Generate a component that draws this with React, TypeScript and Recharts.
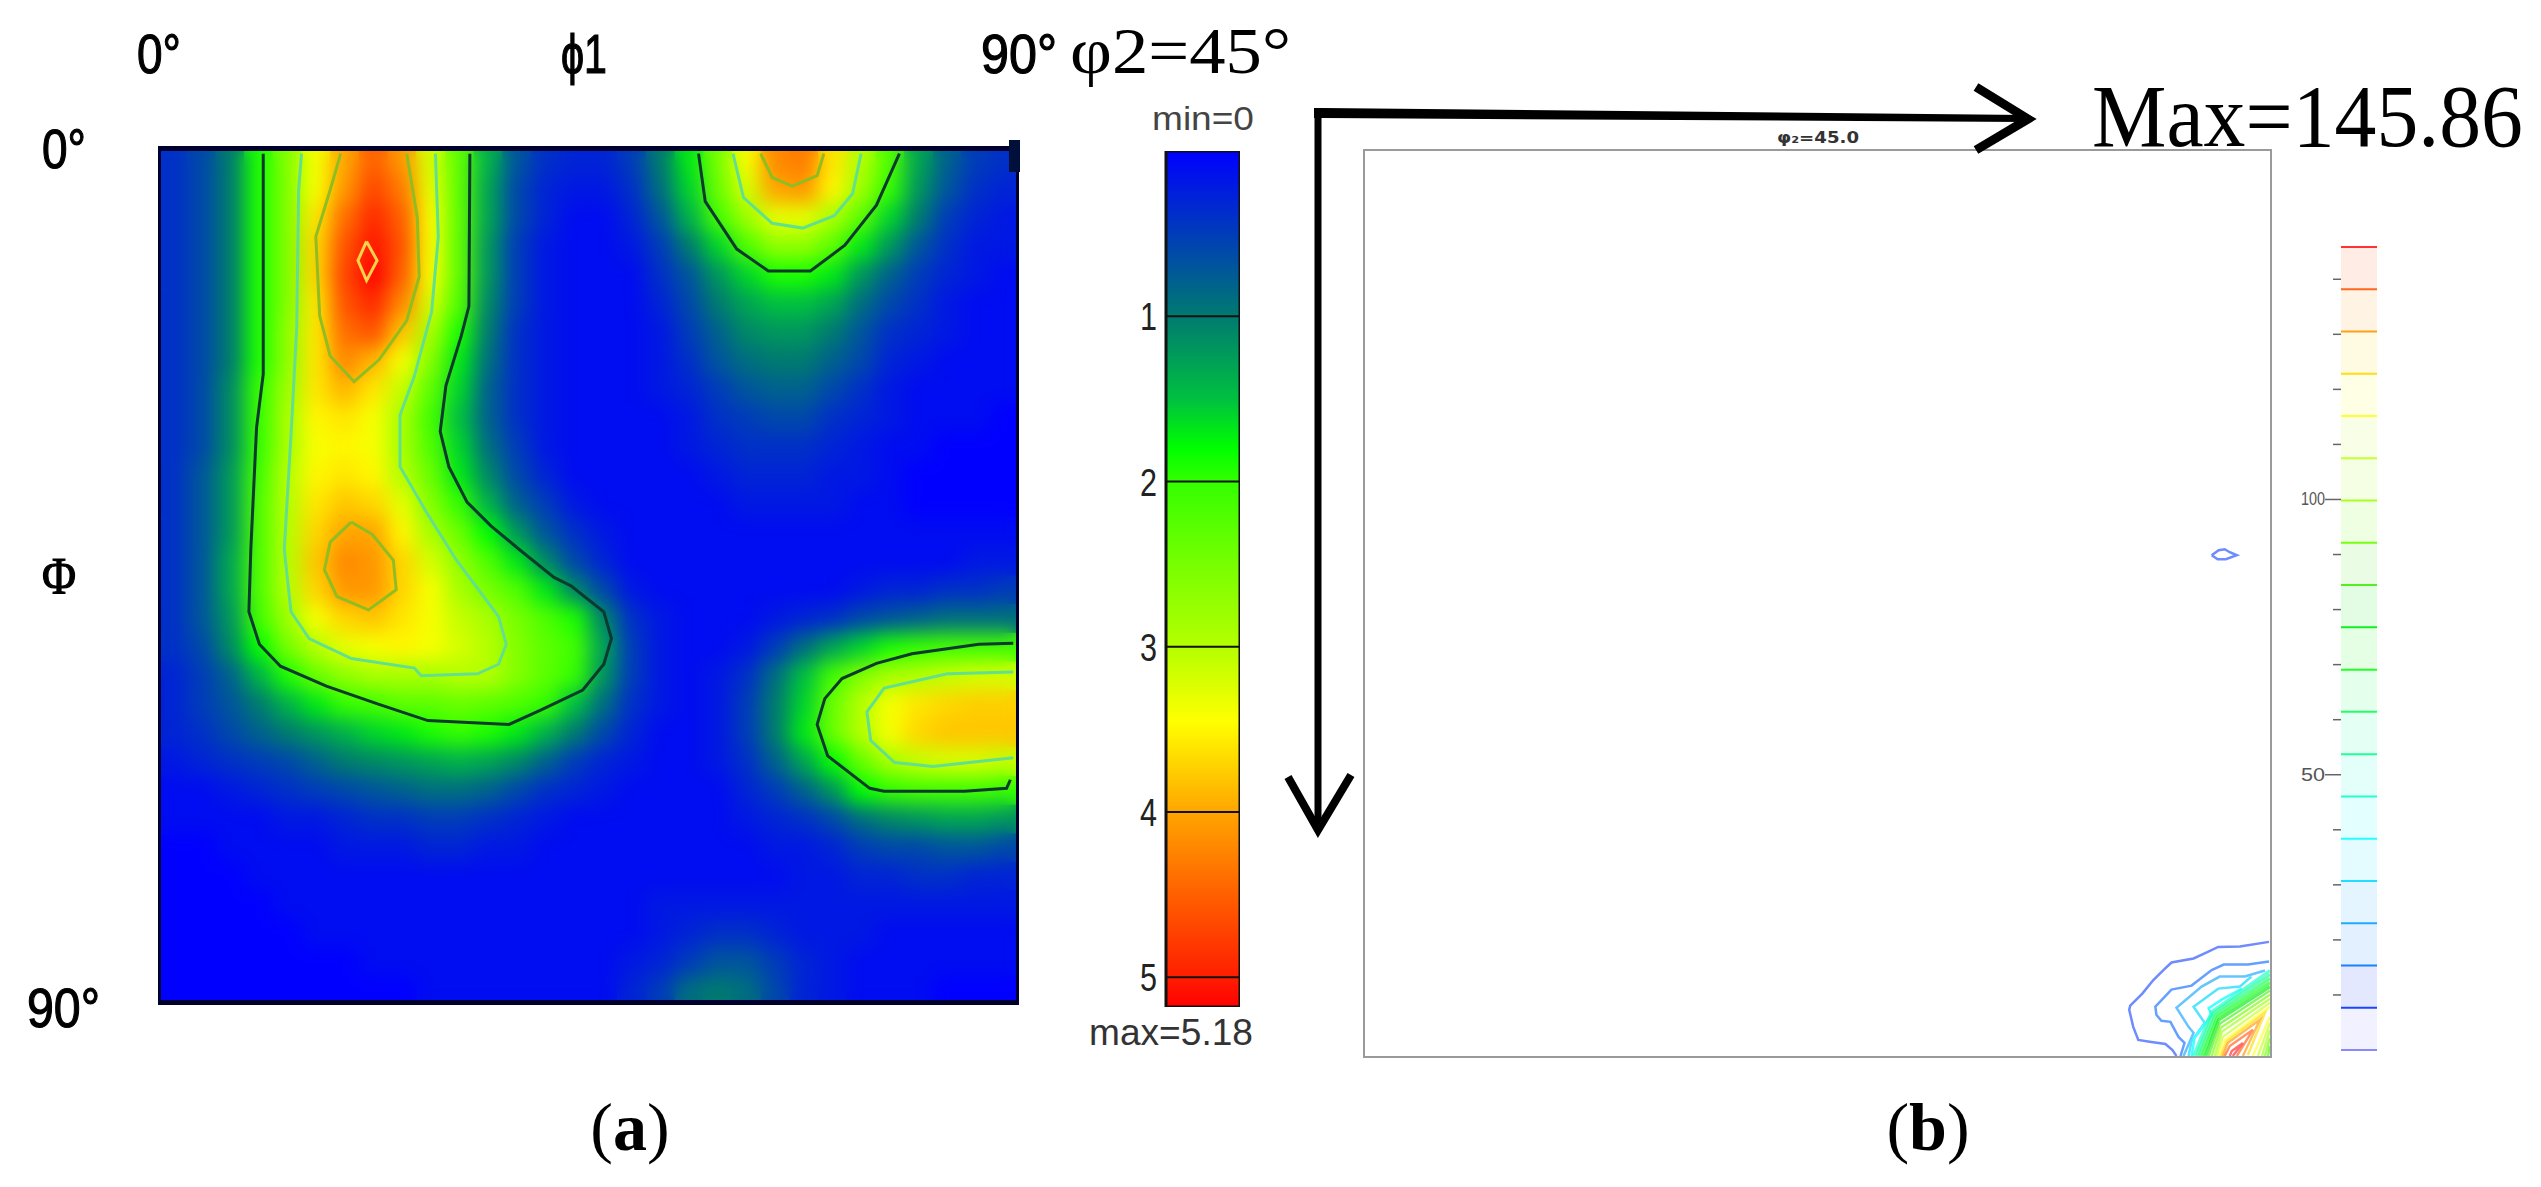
import React from 'react';
import { ScatterChart, Scatter, XAxis, YAxis, ReferenceArea, ReferenceLine } from 'recharts';

// (a) ODF section, values at 3 degree steps
const phi1Cells = [1.5, 4.5, 7.5, 10.5, 13.5, 16.5, 19.5, 22.5, 25.5, 28.5, 31.5, 34.5, 37.5, 40.5, 43.5, 46.5, 49.5, 52.5, 55.5, 58.5, 61.5, 64.5, 67.5, 70.5, 73.5, 76.5, 79.5, 82.5, 85.5, 88.5];
const PhiCells = phi1Cells;
const odfValues = [
  [.4, .6, 1.0, 1.9, 2.6, 3.4, 4.0, 4.5, 4.1, 3.2, 2.3, 1.4, .7, .4, .3, .3, .5, 1.0, 1.7, 2.5, 3.4, 4.2, 4.3, 3.6, 3.0, 2.2, 1.3, .8, .5, .4],
  [.4, .6, 1.0, 1.9, 2.6, 3.4, 4.1, 4.7, 4.3, 3.3, 2.3, 1.3, .6, .3, .2, .2, .4, .9, 1.6, 2.4, 3.2, 4.0, 4.1, 3.5, 2.8, 2.0, 1.2, .7, .4, .3],
  [.4, .6, 1.0, 1.9, 2.6, 3.6, 4.4, 4.9, 4.5, 3.4, 2.3, 1.3, .6, .3, .1, .1, .3, .7, 1.4, 2.1, 2.8, 3.3, 3.3, 2.9, 2.3, 1.6, 1.0, .5, .3, .2],
  [.4, .6, 1.0, 1.9, 2.6, 3.7, 4.6, 5.05, 4.6, 3.4, 2.3, 1.2, .5, .2, .1, .1, .2, .5, 1.0, 1.6, 2.2, 2.7, 2.7, 2.3, 1.7, 1.2, .7, .4, .2, .2],
  [.4, .6, 1.0, 1.9, 2.6, 3.7, 4.7, 5.15, 4.5, 3.4, 2.3, 1.2, .5, .2, .1, .1, .1, .4, .7, 1.2, 1.6, 1.9, 1.9, 1.7, 1.2, .8, .5, .3, .2, .1],
  [.4, .6, 1.0, 1.9, 2.6, 3.6, 4.6, 4.9, 4.2, 3.2, 2.2, 1.1, .5, .2, .1, .1, .1, .3, .6, 1.0, 1.3, 1.5, 1.5, 1.3, .9, .6, .4, .2, .1, .1],
  [.4, .6, 1.0, 1.9, 2.7, 3.6, 4.4, 4.6, 3.8, 2.9, 1.9, 1.0, .4, .2, .1, .1, .1, .2, .5, .8, 1.1, 1.2, 1.2, 1.0, .7, .4, .3, .2, .1, .1],
  [.4, .6, 1.0, 1.9, 2.7, 3.6, 4.2, 3.9, 3.4, 2.6, 1.7, .9, .4, .2, .1, .1, .1, .2, .4, .7, .9, 1.0, 1.0, .8, .6, .3, .2, .1, .1, .1],
  [.4, .6, 1.1, 2.0, 2.8, 3.6, 3.9, 3.6, 3.1, 2.3, 1.6, .8, .4, .2, .1, .1, .1, .2, .3, .5, .7, .8, .8, .6, .4, .2, .1, .1, .1, .1],
  [.4, .6, 1.1, 2.0, 2.9, 3.5, 3.6, 3.4, 2.9, 2.1, 1.5, .8, .4, .2, .1, .1, .1, .1, .2, .4, .5, .6, .6, .4, .3, .2, .1, .1, .1, 0],
  [.4, .6, 1.1, 2.0, 2.9, 3.4, 3.5, 3.4, 2.9, 2.2, 1.6, .9, .5, .2, .1, .1, .1, .1, .2, .3, .4, .4, .4, .3, .2, .1, .1, 0, 0, 0],
  [.4, .7, 1.2, 2.1, 3.0, 3.5, 3.6, 3.5, 3.0, 2.4, 1.7, 1.1, .6, .3, .1, .1, .1, .1, .1, .2, .3, .3, .3, .2, .2, .1, 0, 0, 0, 0],
  [.4, .7, 1.2, 2.2, 3.0, 3.6, 3.8, 3.7, 3.3, 2.6, 2.0, 1.4, .8, .5, .2, .1, .1, .1, .1, .1, .2, .2, .2, .2, .1, .1, 0, 0, 0, 0],
  [.4, .7, 1.2, 2.2, 3.0, 3.7, 4.0, 4.0, 3.5, 2.9, 2.4, 1.8, 1.2, .7, .4, .2, .1, .1, .1, .1, .1, .1, .1, .1, .1, .1, .1, .1, .1, .1],
  [.4, .7, 1.3, 2.2, 3.0, 3.8, 4.2, 4.1, 3.7, 3.2, 2.7, 2.2, 1.7, 1.1, .6, .3, .1, .1, .1, .1, .1, .1, .1, .1, .1, .1, .1, .1, .2, .2],
  [.4, .7, 1.3, 2.2, 3.0, 3.7, 4.1, 4.1, 3.7, 3.4, 2.9, 2.5, 2.2, 1.7, 1.1, .6, .2, .1, .1, .1, .1, .1, .1, .1, .2, .3, .3, .4, .4, .5],
  [.4, .7, 1.2, 2.1, 2.8, 3.4, 3.7, 3.8, 3.6, 3.4, 3.1, 2.9, 2.5, 2.2, 1.9, 1.1, .4, .2, .1, .1, .1, .2, .3, .4, .6, .7, .8, .9, .9, .9],
  [.4, .6, 1.1, 1.8, 2.5, 3.0, 3.3, 3.4, 3.5, 3.4, 3.2, 3.0, 2.6, 2.3, 2.1, 1.3, .5, .2, .1, .1, .2, .5, .9, 1.3, 1.6, 1.9, 2.0, 2.1, 2.1, 2.1],
  [.3, .5, .8, 1.4, 1.9, 2.4, 2.7, 2.9, 2.9, 2.9, 3.0, 3.0, 2.6, 2.3, 2.0, 1.2, .5, .2, .1, .2, .4, .9, 1.5, 2.1, 2.6, 2.9, 3.0, 3.1, 3.2, 3.2],
  [.3, .5, .7, 1.0, 1.4, 1.7, 2.0, 2.1, 2.3, 2.3, 2.4, 2.3, 2.2, 2.0, 1.5, .9, .4, .2, .1, .2, .5, 1.0, 1.6, 2.4, 3.0, 3.4, 3.6, 3.7, 3.75, 3.75],
  [.3, .4, .6, .8, 1.0, 1.2, 1.4, 1.6, 1.7, 1.9, 2.0, 1.9, 1.7, 1.4, 1.0, .6, .3, .1, .1, .2, .5, 1.0, 1.7, 2.4, 3.0, 3.4, 3.7, 3.8, 3.8, 3.8],
  [.2, .3, .4, .5, .6, .8, 1.0, 1.1, 1.2, 1.3, 1.4, 1.3, 1.1, .8, .5, .3, .2, .1, .1, .2, .4, .8, 1.3, 1.8, 2.4, 2.9, 3.1, 3.2, 3.2, 3.1],
  [.1, .1, .2, .3, .4, .5, .6, .7, .8, .9, .9, .8, .6, .4, .3, .2, .1, .1, .1, .1, .3, .5, .8, 1.2, 1.8, 2.0, 2.1, 2.1, 2.1, 2.0],
  [.1, .1, .1, .1, .2, .2, .3, .4, .4, .5, .5, .4, .3, .2, .1, .1, .1, .1, .1, .1, .2, .3, .4, .6, .9, 1.1, 1.2, 1.3, 1.3, 1.2],
  [0, 0, .1, .1, .1, .1, .2, .2, .2, .3, .3, .2, .2, .1, .1, .1, .1, .1, .1, .1, .1, .2, .2, .3, .5, .6, .6, .7, .7, .6],
  [0, 0, 0, .1, .1, .1, .1, .1, .1, .1, .1, .1, .1, .1, .1, .1, .1, .1, .1, .1, .1, .1, .2, .2, .3, .3, .4, .4, .3, .3],
  [0, 0, 0, 0, .1, .1, .1, .1, .1, .1, .1, .1, .1, .1, .1, .1, .1, .2, .2, .2, .2, .2, .2, .2, .2, .2, .2, .2, .2, .2],
  [0, 0, 0, 0, 0, .1, .1, .1, .1, .1, .1, .1, .1, .1, .1, .1, .1, .2, .3, .4, .4, .3, .2, .2, .2, .1, .1, .1, .1, .1],
  [0, 0, 0, 0, 0, 0, 0, .1, .1, .1, .1, .1, .1, .1, .1, .1, .2, .3, .5, .7, .7, .5, .3, .2, .1, .1, .1, .1, .1, .1],
  [0, 0, 0, 0, 0, 0, 0, 0, 0, .1, .1, .1, .1, .1, .1, .1, .3, .5, .9, 1.0, .9, .6, .3, .2, .1, .1, .1, 0, 0, 0],
];

// level 2 contours (black)
const level2Left = [[11, .8], [11, 23.9], [10.3, 29.5], [9.7, 42.3], [9.5, 48.8], [10.6, 52.2], [12.8, 54.5], [17.6, 56.6], [23.1, 58.5], [28.2, 60.2], [36.7, 60.6], [40, 59.1], [44.4, 57], [46.6, 54.3], [47.4, 51.6], [46.6, 48.8], [43.2, 46.1], [41.4, 45.2], [37.8, 42.3], [34.8, 39.8], [32.3, 37.3], [30.4, 33.6], [29.5, 29.9], [30.1, 25.1], [31.7, 19.9], [32.5, 16.8], [32.6, .8]];
const level2Top = [[56.5, .8], [57.2, 5.8], [60.5, 10.8], [63.8, 13.1], [68.2, 13.1], [71.8, 10.4], [75.1, 6.2], [77.5, .8]];
const level2Right = [[89.4, 52.1], [85.8, 52.2], [78.8, 53.2], [75.1, 54.2], [71.5, 55.8], [69.7, 57.9], [68.9, 60.6], [70, 63.9], [74.4, 67.3], [75.9, 67.6], [84.3, 67.6], [88.7, 67.3], [89.1, 66.4]];
// level 3
const level3Left = [[15, .8], [14.7, 4.6], [14.5, 19], [13.9, 30.3], [13.2, 42.3], [13.9, 48.8], [15.8, 51.6], [20.2, 53.7], [26.8, 54.7], [27.5, 55.5], [33.4, 55.3], [35.6, 54.3], [36.4, 52.2], [35.6, 49.3], [31.2, 43.4], [28.2, 38.6], [25.3, 33.6], [25.3, 28.2], [26.8, 24.1], [28.6, 17.4], [29.3, 9.5], [29, .8]];
const level3Top = [[60.1, .8], [61.2, 5.4], [64.2, 8.1], [67.4, 8.6], [70.7, 7.3], [72.6, 5], [73.5, .8]];
const level3Right = [[89.4, 55.1], [82.5, 55.3], [75.9, 56.8], [74.1, 59.3], [74.5, 62.3], [77, 64.6], [81, 65], [89.4, 64.1]];
// level 4 and 5
const level4Upper = [[19.1, .8], [18, 4.6], [16.5, 9.5], [16.9, 17.8], [18, 22], [20.5, 24.7], [23.1, 22.4], [26, 18.3], [27.3, 13.7], [27.1, 7.5], [26, .8]];
const level4Lower = [[20.2, 39.4], [18, 41.5], [17.4, 44.4], [18.7, 47.2], [22, 48.6], [24.9, 46.5], [24.6, 43.4], [22.4, 40.7], [20.2, 39.4]];
const level4Top = [[63, .8], [64.2, 3.3], [66.3, 4.2], [68.9, 3.1], [69.6, .8]];
const level5Peak = [[21.8, 10], [20.9, 12], [21.8, 14.1], [22.9, 12], [21.8, 10]];

const colorStops: [number, number[]][] = [
  [0, [0, 0, 255]], [.5, [0, 60, 185]], [1, [0, 122, 112]], [1.5, [0, 192, 64]], [1.8, [0, 255, 0]], [2, [51, 255, 0]],
  [2.5, [119, 255, 0]], [3, [180, 255, 0]], [3.45, [255, 255, 0]], [4, [255, 165, 0]], [4.5, [255, 96, 0]], [5, [255, 30, 0]], [5.18, [255, 0, 0]],
];
const barTicks = [1, 2, 3, 4, 5];

// (b) contour section
const legendLevels = [0, 7.68, 15.35, 23.03, 30.71, 38.39, 46.06, 53.74, 61.42, 69.09, 76.77, 84.45, 92.12, 99.8, 107.48, 115.16, 122.83, 130.51, 138.18, 145.86];
const legendColors = ['#8888ff', '#1a44ff', '#1a80ff', '#22aaff', '#22ddff', '#22ffff', '#22ffcc', '#22ff99', '#22ff66', '#22ff22', '#11ee22', '#55ee22', '#77ff11', '#aaff22', '#c8ff33', '#ffff33', '#ffdd11', '#ffa01a', '#ff6622', '#ff3333'];
const legendTicks = [10, 20, 30, 40, 50, 60, 70, 80, 90, 100, 110, 120, 130, 140];

const smallIsland = [[84.2, 40.2], [84.9, 39.7], [85.5, 39.6], [86, 39.9], [86.7, 40.2], [85.6, 40.6], [84.8, 40.6], [84.2, 40.2]];
const cornerLines: [string, number[][]][] = [
  ['#6f8cff', [[89.9, 78.65], [87, 79.1], [84.85, 79.15], [83.5, 79.8], [82.4, 80.3], [80.2, 80.7], [79.4, 81.45], [78.4, 82.45], [77.3, 83.8], [76.1, 85], [76, 85.4], [76.4, 87.1], [76.9, 88.4], [78.2, 88.6], [79.6, 88.8], [80.3, 89.4], [80.7, 90]]],
  ['#66a0ff', [[89.9, 80.6], [87.8, 80.9], [85.4, 80.9], [84.2, 81.45], [82.2, 83], [80.2, 83.4], [78.6, 85.1], [78.7, 85.9], [79.2, 86.5], [80.1, 86.6], [80.9, 88.1], [81.5, 88.7], [81.1, 90]]],
  ['#66c4ff', [[89.5, 81.5], [87.5, 82.1], [85, 82.1], [83.2, 83.1], [80.7, 85.2], [81.9, 87.1], [82.4, 87.7], [81.4, 90]]],
  ['#55e4ff', [[88.15, 82.1], [87, 83.1], [84.85, 83.3], [82.4, 85.1], [83.5, 86.7], [82.2, 88.55], [81.9, 90]]],
  ['#44ffff', [[87.2, 83.3], [85.2, 84.4], [83.9, 85.25], [84.2, 85.9], [82.5, 88.2], [82.2, 90]]],
];
const fanLines: [number, number[][]][] = [
  [6, [[82.4, 90], [84.2, 85.6], [90, 81.5]]],
  [7, [[82.7, 90], [84.4, 85.7], [90, 81.9]]],
  [8, [[83, 90], [84.6, 85.9], [90, 82.3]]],
  [9, [[83.3, 90], [84.8, 86.1], [90, 82.7]]],
  [10, [[83.6, 90], [84.9, 86.4], [90, 83.1]]],
  [11, [[83.9, 90], [85, 86.8], [90, 83.5]]],
  [12, [[84.2, 90], [85.1, 87.2], [90, 83.9]]],
  [13, [[84.5, 90], [85.2, 87.6], [90, 84.3]]],
  [14, [[84.7, 90], [85.3, 88.1], [90, 84.7]]],
  [15, [[84.9, 90], [85.5, 88.4], [90, 85.1]]],
  [16, [[85.1, 90], [85.7, 88.5], [89.5, 85.7], [87.8, 89.9]]],
  [17, [[85.3, 90], [85.8, 88.7], [89, 86.4], [87.3, 90]]],
  [18, [[85.5, 90], [86, 89], [88.3, 87.4], [86.7, 90]]],
  [19, [[86, 90], [86.2, 89.5], [87.3, 88.7], [86.3, 90]]],
  [15, [[90, 86.1], [88.3, 90]]],
  [14, [[90, 86.7], [88.8, 90]]],
  [13, [[90, 87.4], [89.2, 90]]],
  [12, [[90, 88.2], [89.5, 90]]],
  [11, [[90, 89], [89.8, 90]]],
];

const pts = (list: number[][]) => list.map(([x, y]) => ({ x, y }));
const heatData = odfValues.flatMap((row, r) => row.map((v, c) => ({ x: phi1Cells[c], y: PhiCells[r], v })));

const colorOf = (v: number) => {
  let i = 0;
  while (i < colorStops.length - 2 && v > colorStops[i + 1][0]) i++;
  const [a, ca] = colorStops[i];
  const [b, cb] = colorStops[i + 1];
  const t = Math.min(1, (v - a) / (b - a));
  return `rgb(${ca.map((c, k) => Math.round(c + (cb[k] - c) * t)).join(',')})`;
};

const noDot = () => <g />;
const MAP_W = 861;
const MAP_H = 859;

const HeatLayer = ({ blur }: { blur: number }) => (
  <div style={{ position: 'absolute', left: 0, top: 0, filter: blur ? `blur(${blur}px)` : undefined }}>
    <ScatterChart width={MAP_W} height={MAP_H} margin={{ top: 0, right: 0, bottom: 0, left: 0 }}>
      <XAxis type="number" dataKey="x" domain={[0, 90]} hide />
      <YAxis type="number" dataKey="y" domain={[0, 90]} reversed hide />
      <Scatter
        data={heatData}
        isAnimationActive={false}
        shape={(p: any) => {
          const w = MAP_W / phi1Cells.length;
          const h = MAP_H / PhiCells.length;
          return <rect x={p.cx - w / 2} y={p.cy - h / 2} width={w + 0.6} height={h + 0.6} fill={colorOf(p.payload.v)} />;
        }}
      />
    </ScatterChart>
  </div>
);

const contourLine = (list: number[][], stroke: string, width: number, key: string, opacity = 1) => (
  <Scatter
    key={key}
    data={pts(list)}
    line={{ stroke, strokeWidth: width, strokeOpacity: opacity }}
    shape={noDot}
    isAnimationActive={false}
  />
);

const OdfMap = () => (
  <div style={{ position: 'absolute', left: 158, top: 146, width: MAP_W, height: MAP_H, overflow: 'hidden' }}>
    <HeatLayer blur={0} />
    <HeatLayer blur={10} />
    <div style={{ position: 'absolute', left: 0, top: 0 }}>
      <ScatterChart width={MAP_W} height={MAP_H} margin={{ top: 0, right: 0, bottom: 0, left: 0 }}>
        <XAxis type="number" dataKey="x" domain={[0, 90]} hide />
        <YAxis type="number" dataKey="y" domain={[0, 90]} reversed hide />
        {[level2Left, level2Top, level2Right].map((l, i) => contourLine(l, '#0b3b2c', 3, `l2-${i}`))}
        {[level3Left, level3Top, level3Right].map((l, i) => contourLine(l, '#62e08e', 3, `l3-${i}`))}
        {[level4Upper, level4Lower, level4Top].map((l, i) => contourLine(l, '#8fbd22', 3, `l4-${i}`))}
        {contourLine(level5Peak, '#ffd24a', 3, 'l5')}
      </ScatterChart>
    </div>
    <div style={{ position: 'absolute', inset: 0, boxSizing: 'border-box', borderStyle: 'solid', borderColor: '#00002e', borderWidth: '5px 3px 5px 3px' }} />
  </div>
);

const barTick = ({ x, y, payload }: any) => (
  <text x={x - 9} y={y + 14} textAnchor="end" fontFamily="Liberation Sans" fontSize={38} textLength={17} lengthAdjust="spacingAndGlyphs" fill="#222">
    {payload.value}
  </text>
);

const ColorBar = () => (
  <div style={{ position: 'absolute', left: 1116, top: 151 }}>
    <ScatterChart width={124} height={856} margin={{ top: 0, right: 0, bottom: 0, left: 0 }}>
      <defs>
        <linearGradient id="odfRamp" x1="0" y1="0" x2="0" y2="1">
          {colorStops.map(([v, c]) => (
            <stop key={v} offset={v / 5.18} stopColor={`rgb(${c.join(',')})`} />
          ))}
        </linearGradient>
      </defs>
      <XAxis type="number" dataKey="x" domain={[0, 1]} hide />
      <YAxis type="number" dataKey="y" domain={[0, 5.18]} reversed ticks={barTicks} width={50} tick={barTick} tickLine={false} axisLine={false} tickSize={0} tickMargin={0} interval={0} />
      <Scatter data={barTicks.map((t) => ({ x: 0, y: t }))} shape={noDot} isAnimationActive={false} />
      <ReferenceArea x1={0} x2={1} y1={0} y2={5.18} fill="url(#odfRamp)" fillOpacity={1} stroke="#111" strokeWidth={3} />
      {barTicks.map((t) => (
        <ReferenceLine key={t} y={t} stroke="#111" strokeWidth={2} />
      ))}
    </ScatterChart>
  </div>
);

const ContourPanel = () => (
  <div style={{ position: 'absolute', left: 1363, top: 149, width: 909, height: 909, boxSizing: 'border-box', border: '2px solid #9a9a9a', overflow: 'hidden' }}>
    <ScatterChart width={905} height={905} margin={{ top: 0, right: 0, bottom: 0, left: 0 }}>
      <XAxis type="number" dataKey="x" domain={[0, 90]} hide />
      <YAxis type="number" dataKey="y" domain={[0, 90]} reversed hide />
      {contourLine(smallIsland, '#6f8cff', 2.5, 'island')}
      {cornerLines.map(([c, l], i) => contourLine(l, c, 2.5, `corner-${i}`))}
      {fanLines.map(([k, l], i) => contourLine(l, legendColors[k], k > 10 ? 2.4 : 3.4, `fan-${i}`, 0.7))}
    </ScatterChart>
  </div>
);

const legendTick = ({ x, y, payload }: any) => {
  const major = payload.value % 50 === 0;
  return (
    <g>
      <line x1={x - (major ? 16 : 8)} x2={x} y1={y} y2={y} stroke="#666" strokeWidth={1.5} />
      {major && (
        <text x={x - 40} y={y + 6} fontFamily="Liberation Sans" fontSize={18} textLength={24} lengthAdjust="spacingAndGlyphs" fill="#555">
          {payload.value}
        </text>
      )}
    </g>
  );
};

const LevelLegend = () => (
  <div style={{ position: 'absolute', left: 2290, top: 246 }}>
    <ScatterChart width={87} height={805} margin={{ top: 1, right: 0, bottom: 1, left: 0 }}>
      <XAxis type="number" dataKey="x" domain={[0, 1]} hide />
      <YAxis type="number" dataKey="y" domain={[0, 145.86]} ticks={legendTicks} width={51} tick={legendTick} tickLine={false} axisLine={false} tickSize={0} tickMargin={0} interval={0} />
      <Scatter data={legendTicks.map((t) => ({ x: 0, y: t }))} shape={noDot} isAnimationActive={false} />
      {legendLevels.slice(1).map((lv, i) => (
        <ReferenceArea key={lv} x1={0} x2={1} y1={legendLevels[i]} y2={lv} fill={legendColors[i]} fillOpacity={0.12} stroke="none" />
      ))}
      {legendLevels.map((lv, i) => (
        <ReferenceLine key={lv} y={lv} stroke={legendColors[i]} strokeWidth={2} />
      ))}
    </ScatterChart>
  </div>
);

const sans = { fontFamily: 'Liberation Sans', lengthAdjust: 'spacingAndGlyphs', stroke: '#000', strokeWidth: 1.2 } as const;
const serif = { fontFamily: 'Liberation Serif', fill: '#000' } as const;

// titles, captions and the two hand drawn arrows
const Annotations = () => (
  <svg width={2541} height={1187} style={{ position: 'absolute', left: 0, top: 0 }}>
    <text {...sans} x={137} y={73} fontSize={56} textLength={44}>0°</text>
    <text {...sans} x={561} y={73} fontSize={56} textLength={46}>ϕ1</text>
    <text {...sans} x={981} y={73} fontSize={56} textLength={76}>90°</text>
    <text {...sans} x={42} y={168} fontSize={56} textLength={44}>0°</text>
    <text {...sans} fontFamily="Liberation Serif" x={42} y={594} fontSize={52} textLength={34}>Φ</text>
    <text {...sans} x={27} y={1027} fontSize={56} textLength={73}>90°</text>
    <text fontFamily="Liberation Sans" lengthAdjust="spacingAndGlyphs" x={1152} y={130} fontSize={34} textLength={102} fill="#444">min=0</text>
    <text fontFamily="Liberation Sans" lengthAdjust="spacingAndGlyphs" x={1089} y={1045} fontSize={36} textLength={164} fill="#333">max=5.18</text>
    <text {...serif} x={1070} y={73} fontSize={66} textLength={221} lengthAdjust="spacingAndGlyphs">φ2=45°</text>
    <text {...serif} x={2092} y={146} fontSize={89} textLength={431} lengthAdjust="spacingAndGlyphs">Max=145.86</text>
    <text fontFamily="DejaVu Sans" fontWeight="bold" x={1777} y={143} fontSize={15} textLength={82} lengthAdjust="spacingAndGlyphs" fill="#333">φ₂=45.0</text>
    <text {...serif} x={630} y={1150} fontSize={68} textAnchor="middle">(<tspan fontWeight="bold">a</tspan>)</text>
    <text {...serif} x={1928} y={1150} fontSize={68} textAnchor="middle">(<tspan fontWeight="bold">b</tspan>)</text>
    <polygon points="1314,108 1323,108 2026,115 2026,122 1323,118 1314,118" fill="#000" />
    <line x1={1318} y1={110} x2={1318} y2={828} stroke="#000" strokeWidth={7} />
    <polyline points="1976,87 2028,119 1976,150" fill="none" stroke="#000" strokeWidth={9} />
    <polyline points="1288,777 1318,830 1351,775" fill="none" stroke="#000" strokeWidth={8} />
  </svg>
);

export default function App() {
  return (
    <div style={{ position: 'absolute', left: 0, top: 0, width: 2541, height: 1187, background: '#fff', overflow: 'hidden' }}>
      <OdfMap />
      <div style={{ position: 'absolute', left: 1009, top: 140, width: 11, height: 32, background: '#00103a' }} />
      <ColorBar />
      <ContourPanel />
      <LevelLegend />
      <Annotations />
    </div>
  );
}
